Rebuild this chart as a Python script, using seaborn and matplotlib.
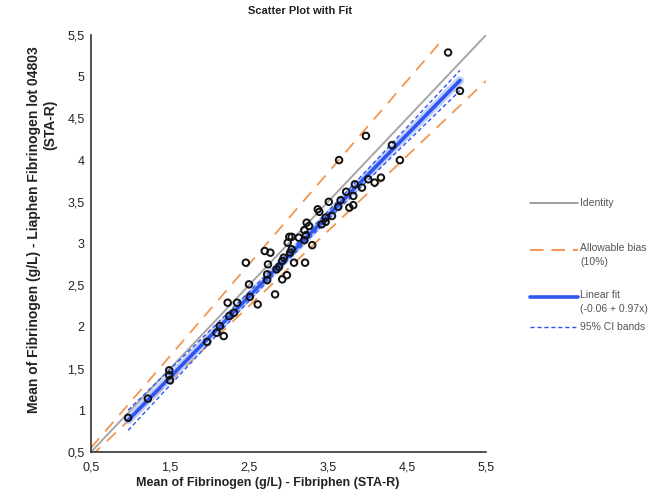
import numpy as np
import pandas as pd
import matplotlib
matplotlib.use("Agg")
import matplotlib.pyplot as plt
import seaborn as sns
from matplotlib.lines import Line2D
from matplotlib.ticker import FuncFormatter

# ---- data ----
fibriphen = [5.02, 5.17, 3.98, 4.31, 4.41, 3.64, 4.17, 4.09, 4.01, 3.84,
             3.93, 3.73, 3.82, 3.66, 3.51, 3.82, 3.77, 3.63, 3.37, 3.39,
             3.55, 3.47, 3.47, 3.42, 3.23, 3.26, 3.20, 3.01, 3.04, 3.13,
             3.20, 2.99, 3.22, 3.30, 3.04, 3.02, 2.70, 2.77, 2.94, 2.92,
             2.46, 2.74, 3.07, 3.21, 2.88, 2.73, 2.98, 2.92, 2.73, 2.50,
             2.83, 2.51, 2.23, 2.35, 2.61, 2.25, 2.31, 2.13, 2.09, 2.18,
             1.97, 1.49, 1.49, 1.50, 1.22, 0.97, 2.85]
liaphen = [5.29, 4.83, 4.29, 4.18, 4.00, 4.00, 3.79, 3.73, 3.77, 3.71,
           3.67, 3.62, 3.57, 3.52, 3.50, 3.46, 3.43, 3.44, 3.41, 3.38,
           3.33, 3.31, 3.26, 3.23, 3.25, 3.21, 3.16, 3.08, 3.08, 3.07,
           3.04, 3.01, 3.10, 2.98, 2.93, 2.89, 2.91, 2.89, 2.83, 2.79,
           2.77, 2.75, 2.77, 2.77, 2.72, 2.63, 2.62, 2.57, 2.56, 2.51,
           2.39, 2.36, 2.29, 2.29, 2.27, 2.13, 2.17, 2.01, 1.93, 1.89,
           1.82, 1.48, 1.42, 1.36, 1.14, 0.91, 2.69]
fit_intercept = -0.06
fit_slope = 0.97
allowable_bias = 0.10
upper_bias_end_x = 4.9
ticks = [0.5, 1.0, 1.5, 2.0, 2.5, 3.0, 3.5, 4.0, 4.5, 5.0, 5.5]
xticks = [0.5, 1.5, 2.5, 3.5, 4.5, 5.5]
legend_labels = ["Identity", "Allowable bias\n(10%)", "Linear fit\n(-0.06 + 0.97x)", "95% CI bands"]

df = pd.DataFrame({"x": fibriphen, "y": liaphen})

# ---- style ----
sns.set_style("white")
plt.rcParams["font.family"] = ["Liberation Sans", "DejaVu Sans"]

fig = plt.figure(figsize=(6.71, 5.0), dpi=100)
ax = fig.add_axes([91/671, 1-452/500, (486-91)/671, (452-35)/500])

lo, hi = 0.5, 5.5
# identity
ident = pd.DataFrame({"x": [lo, hi], "y": [lo, hi]})
sns.lineplot(data=ident, x="x", y="y", ax=ax, color="#a6a6a6", lw=1.4, zorder=2)

# allowable bias lines
ub_x = np.array([lo, upper_bias_end_x])
lb_x = np.array([lo, hi])
bias_col = "#f29650"
sns.lineplot(x=ub_x, y=ub_x * (1 + allowable_bias), ax=ax, color=bias_col, lw=1.3,
             zorder=2).lines[-1].set_dashes([7, 5])
sns.lineplot(x=lb_x, y=lb_x * (1 - allowable_bias), ax=ax, color=bias_col, lw=1.3,
             zorder=2).lines[-1].set_dashes([7, 5])

# linear fit + 95% CI
x = np.asarray(fibriphen); y = np.asarray(liaphen)
n = len(x)
xs = np.linspace(x.min(), x.max(), 100)
yfit = fit_intercept + fit_slope * xs
resid = y - (fit_intercept + fit_slope * x)
s = np.sqrt(np.sum(resid**2) / (n - 2))
sxx = np.sum((x - x.mean())**2)
half = 1.997 * s * np.sqrt(1/n + (xs - x.mean())**2 / sxx)
blue = "#2e55f0"
sns.lineplot(x=xs, y=yfit, ax=ax, color="#9db0fb", lw=6, alpha=0.6, zorder=3)
sns.lineplot(x=xs, y=yfit, ax=ax, color=blue, lw=2.6, zorder=3)
sns.lineplot(x=xs, y=yfit + half, ax=ax, color=blue, lw=1.0, zorder=3).lines[-1].set_dashes([3, 2])
sns.lineplot(x=xs, y=yfit - half, ax=ax, color=blue, lw=1.0, zorder=3).lines[-1].set_dashes([3, 2])

# points
sns.scatterplot(data=df, x="x", y="y", ax=ax, s=22, facecolor="none",
                edgecolor="#111111", linewidth=1.4, zorder=4)

ax.set_xlim(lo, hi)
ax.set_ylim(lo, hi)
ax.set_xticks(xticks)
ax.set_yticks(ticks)
fmt = FuncFormatter(lambda v, p: (f"{v:g}").replace(".", ","))
ax.xaxis.set_major_formatter(fmt)
ax.yaxis.set_major_formatter(fmt)
ax.tick_params(axis="both", direction="inout", length=5, width=1, labelsize=9,
               colors="#222222", pad=2)
ax.tick_params(axis="x", pad=4)
for sp in ["top", "right"]:
    ax.spines[sp].set_visible(False)
for sp in ["left", "bottom"]:
    ax.spines[sp].set_color("#222222")
    ax.spines[sp].set_linewidth(1.1)

ax.set_xlabel("")
ax.set_ylabel("")
fig.text(268/671, 1-483/500, "Mean of Fibrinogen (g/L) - Fibriphen (STA-R)",
         ha="center", va="center", fontsize=9, fontweight="bold", color="#222222")
fig.text(34/671, 1-230/500, "Mean of Fibrinogen (g/L) - Liaphen Fibrinogen lot 04803",
         ha="center", va="center", rotation=90, fontsize=10, fontweight="bold",
         color="#222222")
fig.text(50/671, 1-125/500, "(STA-R)", ha="center", va="center", rotation=90,
         fontsize=10, fontweight="bold", color="#222222")
fig.text(300/671, 1-11/500, "Scatter Plot with Fit", ha="center", va="center",
         fontsize=8, fontweight="bold", color="#222222")

# legend (manual, outside right)
lx0, lx1, tx = 530/671, 578/671, 580/671
def yy(p):
    return 1 - p/500
entries = [
    (203, dict(color="#8c8c8c", lw=1.2), legend_labels[0]),
    (250, dict(color=bias_col, lw=1.4, dashes=[7, 4]), legend_labels[1]),
    (297, dict(color=blue, lw=2.6), legend_labels[2]),
    (327, dict(color=blue, lw=1.0, dashes=[3, 2]), legend_labels[3]),
]
for py, kw, lab in entries:
    dashes = kw.pop("dashes", None)
    ln = Line2D([lx0, lx1], [yy(py), yy(py)], transform=fig.transFigure, **kw)
    if dashes:
        ln.set_dashes(dashes)
    fig.add_artist(ln)
    if "\n" in lab:
        fig.text(tx, yy(py - 7), lab, ha="left", va="top", fontsize=7.5,
                 color="#555555", linespacing=1.45)
    else:
        fig.text(tx, yy(py), lab, ha="left", va="center", fontsize=7.5,
                 color="#555555")

fig.savefig("out.png", dpi=100)
